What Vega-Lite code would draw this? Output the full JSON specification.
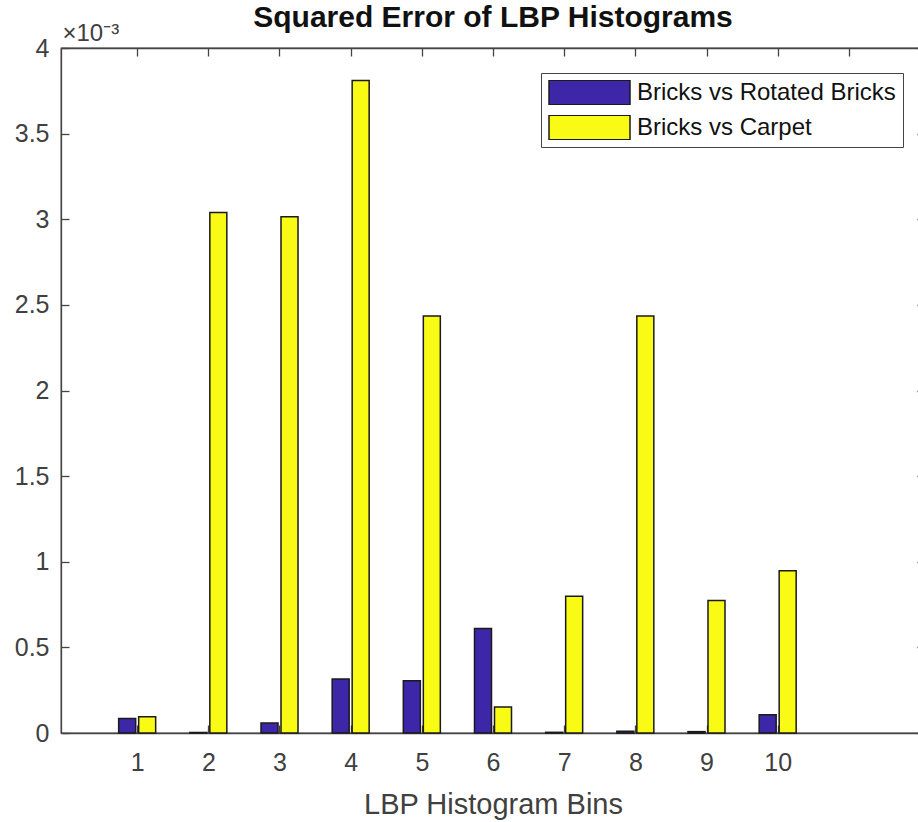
{
  "$schema": "https://vega.github.io/schema/vega-lite/v6.json",
  "width": 864,
  "height": 685,
  "autosize": "none",
  "padding": {"left": 61, "top": 48, "right": -7, "bottom": 89},
  "background": "white",
  "title": {
    "text": "Squared Error of LBP Histograms",
    "fontSize": 30,
    "fontWeight": "bold",
    "font": "Liberation Sans",
    "color": "#111111",
    "anchor": "middle",
    "baseline": "alphabetic",
    "offset": -36
  },
  "config": {
    "view": {"stroke": "#444444", "strokeWidth": 1.3},
    "font": "Liberation Sans",
    "axis": {
      "grid": false,
      "domainColor": "#444444",
      "domainWidth": 1.3,
      "tickColor": "#444444",
      "tickWidth": 1.3,
      "tickSize": -8,
      "labelFont": "Liberation Sans",
      "labelFontSize": 25,
      "labelColor": "#404040",
      "titleFont": "Liberation Sans",
      "titleColor": "#404040",
      "titleFontWeight": "normal"
    }
  },
  "data": {
    "values": [
      {"bin": 1, "series": "Bricks vs Rotated Bricks", "value": 0.000085},
      {"bin": 2, "series": "Bricks vs Rotated Bricks", "value": 0.000003},
      {"bin": 3, "series": "Bricks vs Rotated Bricks", "value": 0.000058},
      {"bin": 4, "series": "Bricks vs Rotated Bricks", "value": 0.000315},
      {"bin": 5, "series": "Bricks vs Rotated Bricks", "value": 0.000305},
      {"bin": 6, "series": "Bricks vs Rotated Bricks", "value": 0.00061},
      {"bin": 7, "series": "Bricks vs Rotated Bricks", "value": 0.000004},
      {"bin": 8, "series": "Bricks vs Rotated Bricks", "value": 0.00001},
      {"bin": 9, "series": "Bricks vs Rotated Bricks", "value": 0.000008},
      {"bin": 10, "series": "Bricks vs Rotated Bricks", "value": 0.000107},
      {"bin": 1, "series": "Bricks vs Carpet", "value": 0.000095},
      {"bin": 2, "series": "Bricks vs Carpet", "value": 0.00304},
      {"bin": 3, "series": "Bricks vs Carpet", "value": 0.003015},
      {"bin": 4, "series": "Bricks vs Carpet", "value": 0.00381},
      {"bin": 5, "series": "Bricks vs Carpet", "value": 0.002435},
      {"bin": 6, "series": "Bricks vs Carpet", "value": 0.000152},
      {"bin": 7, "series": "Bricks vs Carpet", "value": 0.000798},
      {"bin": 8, "series": "Bricks vs Carpet", "value": 0.002435},
      {"bin": 9, "series": "Bricks vs Carpet", "value": 0.000773},
      {"bin": 10, "series": "Bricks vs Carpet", "value": 0.000947}
    ]
  },
  "layer": [
    {
      "transform": [{"filter": "datum.series === 'Bricks vs Rotated Bricks'"}],
      "mark": {"type": "bar", "width": 17, "xOffset": -10, "stroke": "#1a1a1a", "strokeWidth": 1.5},
      "encoding": {
        "x": {
          "field": "bin", "type": "quantitative",
          "scale": {"domain": [0, 12], "nice": false, "zero": false},
          "axis": {
            "orient": "bottom",
            "values": [1, 2, 3, 4, 5, 6, 7, 8, 9, 10],
            "format": "d",
            "labelPadding": 25,
            "title": "LBP Histogram Bins",
            "titleFontSize": 29,
            "titleY": 80,
            "titleBaseline": "alphabetic"
          }
        },
        "y": {
          "field": "value", "type": "quantitative",
          "scale": {"domain": [0, 0.004], "nice": false},
          "axis": {
            "orient": "left",
            "values": [0, 0.0005, 0.001, 0.0015, 0.002, 0.0025, 0.003, 0.0035, 0.004],
            "labelExpr": "format(datum.value * 1000, '.1~f')",
            "labelPadding": 20,
            "title": "×10⁻³",
            "titleFontSize": 24,
            "titleAngle": 0,
            "titleAlign": "left",
            "titleBaseline": "alphabetic",
            "titleX": 1,
            "titleY": -8
          }
        },
        "color": {
          "field": "series", "type": "nominal",
          "scale": {
            "domain": ["Bricks vs Rotated Bricks", "Bricks vs Carpet"],
            "range": ["#3E26A8", "#F9FB15"]
          },
          "legend": {
            "title": null,
            "orient": "none",
            "legendX": 480,
            "legendY": 25,
            "symbolType": "M-1,-0.3H1V0.3H-1Z",
            "symbolSize": 6561,
            "clipHeight": 25,
            "symbolStrokeColor": "#1a1a1a",
            "symbolStrokeWidth": 1.5,
            "symbolOpacity": 1,
            "labelFontSize": 24,
            "labelColor": "#111111",
            "labelFont": "Liberation Sans",
            "labelOffset": 6,
            "labelLimit": 400,
            "strokeColor": "#444444",
            "fillColor": "white",
            "padding": 7,
            "rowPadding": 10
          }
        }
      }
    },
    {
      "transform": [{"filter": "datum.series === 'Bricks vs Carpet'"}],
      "mark": {"type": "bar", "width": 17, "xOffset": 10, "stroke": "#1a1a1a", "strokeWidth": 1.5},
      "encoding": {
        "x": {
          "field": "bin", "type": "quantitative",
          "scale": {"domain": [0, 12], "nice": false, "zero": false},
          "axis": {
            "orient": "top",
            "values": [1, 2, 3, 4, 5, 6, 7, 8, 9, 10, 11],
            "labels": false,
            "title": null
          }
        },
        "y": {
          "field": "value", "type": "quantitative",
          "scale": {"domain": [0, 0.004], "nice": false},
          "axis": {
            "orient": "right",
            "values": [0, 0.0005, 0.001, 0.0015, 0.002, 0.0025, 0.003, 0.0035, 0.004],
            "labels": false,
            "title": null
          }
        },
        "color": {"field": "series", "type": "nominal"}
      }
    }
  ],
  "resolve": {"axis": {"x": "independent", "y": "independent"}}
}
